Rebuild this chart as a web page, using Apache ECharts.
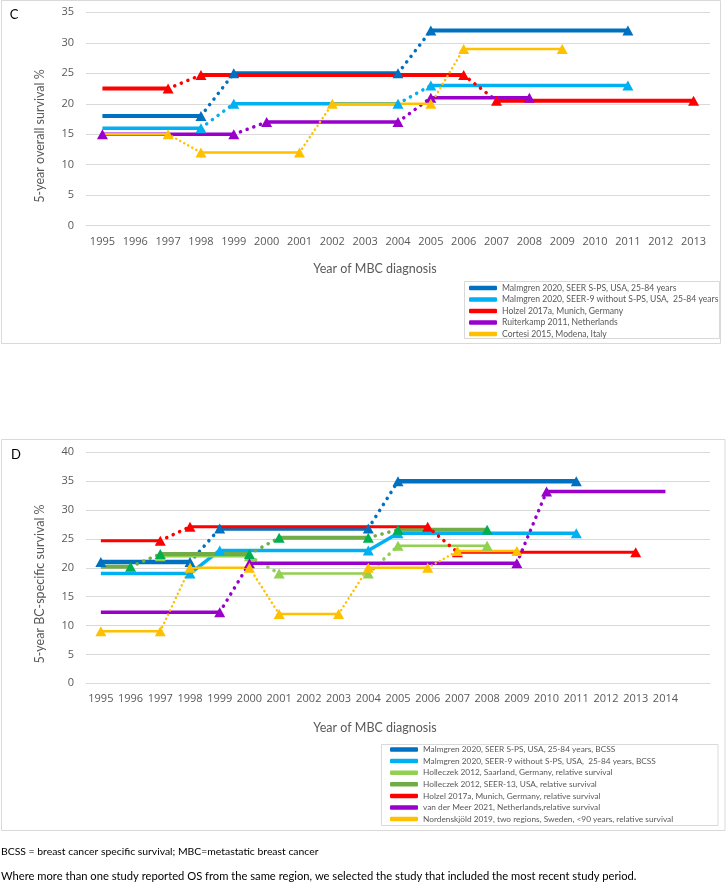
<!DOCTYPE html>
<html><head><meta charset="utf-8">
<script src="https://cdn.jsdelivr.net/npm/echarts@6/dist/echarts.min.js"></script>
<style>html,body{margin:0;padding:0;background:#fff}#chart{width:726px;height:883px}</style>
</head><body><div id="chart"></div>
<script>
// ---------- Panel C: 5-year overall survival ----------
const yearsC = ['1995','1996','1997','1998','1999','2000','2001','2002','2003','2004','2005','2006','2007','2008','2009','2010','2011','2012','2013'];
const cMalmgrenSPS   = [18,18,18,18,25,25,25,25,25,25,32,32,32,32,32,32,32,null,null];
const cMalmgrenSEER9 = [16,16,16,16,20,20,20,20,20,20,23,23,23,23,23,23,23,null,null];
const cHolzel        = [22.5,22.5,22.5,24.7,24.7,24.7,24.7,24.7,24.7,24.7,24.7,24.7,20.5,20.5,20.5,20.5,20.5,20.5,20.5];
const cRuiterkamp    = [15,15,15,15,15,17,17,17,17,17,21,21,21,21,null,null,null,null,null];
const cCortesi       = [15,15,15,12,12,12,12,20,20,20,20,29,29,29,29,null,null,null,null];
const cMalmgrenSPSMarks   = [1998,1999,2004,2005,2011];
const cMalmgrenSEER9Marks = [1998,1999,2004,2005,2011];
const cHolzelMarks        = [1997,1998,2006,2007,2013];
const cRuiterkampMarks    = [1995,1999,2000,2004,2005,2008];
const cCortesiMarks       = [1997,1998,2001,2002,2005,2006,2009];
const cNames = ['Malmgren 2020, SEER S-PS, USA, 25-84 years','Malmgren 2020, SEER-9 without S-PS, USA,  25-84 years','Holzel 2017a, Munich, Germany','Ruiterkamp 2011, Netherlands','Cortesi 2015, Modena, Italy'];

// ---------- Panel D: 5-year BC-specific survival ----------
const yearsD = ['1995','1996','1997','1998','1999','2000','2001','2002','2003','2004','2005','2006','2007','2008','2009','2010','2011','2012','2013','2014',''];
const dMalmgrenSPS   = [21,21,21,21,26.8,26.8,26.8,26.8,26.8,26.8,35,35,35,35,35,35,35,null,null,null,null];
const dMalmgrenSEER9 = [19,19,19,19,23,23,23,23,23,23,26,26,26,26,26,26,26,null,null,null,null];
const dHolleczekSaar = [null,null,22,22,22,22,19,19,19,19,23.8,23.8,23.8,23.8,null,null,null,null,null,null,null];
const dHolleczekSEER = [20.2,20.2,22.4,22.4,22.4,22.4,25.2,25.2,25.2,25.2,26.6,26.6,26.6,26.6,null,null,null,null,null,null,null];
const dHolzel        = [24.7,24.7,24.7,27.1,27.1,27.1,27.1,27.1,27.1,27.1,27.1,27.1,22.7,22.7,22.7,22.7,22.7,22.7,22.7,null,null];
const dVanDerMeer    = [12.3,12.3,12.3,12.3,12.3,20.8,20.8,20.8,20.8,20.8,20.8,20.8,20.8,20.8,20.8,33.2,33.2,33.2,33.2,33.2,null];
const dNordenskjold  = [9,9,9,20,20,20,12,12,12,20,20,20,22.9,22.9,22.9,null,null,null,null,null,null];
const dMalmgrenSPSMarks   = [1995,1998,1999,2004,2005,2011];
const dMalmgrenSEER9Marks = [1998,1999,2004,2005,2011];
const dHolleczekSaarMarks = [1997,2000,2001,2004,2005,2008];
const dHolleczekSEERMarks = [1996,1997,2000,2001,2004,2005,2008];
const dHolzelMarks        = [1997,1998,2006,2007,2013];
const dVanDerMeerMarks    = [1999,2000,2009,2010];
const dNordenskjoldMarks  = [1995,1997,1998,2000,2001,2003,2004,2006,2007,2009];
const dNames = ['Malmgren 2020, SEER S-PS, USA, 25-84 years, BCSS','Malmgren 2020, SEER-9 without S-PS, USA,  25-84 years, BCSS','Holleczek 2012, Saarland, Germany, relative survival','Holleczek 2012, SEER-13, USA, relative survival','Holzel 2017a, Munich, Germany, relative survival','van der Meer 2021, Netherlands,relative survival','Nordenskjöld 2019, two regions, Sweden, <90 years, relative survival'];

// ---------- styles ----------
const LATO = "Lato,'Open Sans',sans-serif";
const SANS = "'Open Sans',sans-serif";
const GREY = '#595959';
const GRID = '#d9d9d9';

const cStudies = [
  {name:cNames[0], data:cMalmgrenSPS,   marks:cMalmgrenSPSMarks,   color:'#0070C0', width:4,   dotted:true},
  {name:cNames[1], data:cMalmgrenSEER9, marks:cMalmgrenSEER9Marks, color:'#00B0F0', width:3.5, dotted:true},
  {name:cNames[2], data:cHolzel,        marks:cHolzelMarks,        color:'#FF0000', width:4,   dotted:true},
  {name:cNames[3], data:cRuiterkamp,    marks:cRuiterkampMarks,    color:'#9900CC', width:3.5, dotted:true},
  {name:cNames[4], data:cCortesi,       marks:cCortesiMarks,       color:'#FFC000', width:2.5, dotted:true, dot:[0.1,4.5]}
];
const dStudies = [
  {name:dNames[0], data:dMalmgrenSPS,   marks:dMalmgrenSPSMarks,   color:'#0070C0', width:4.5, dotted:true},
  {name:dNames[1], data:dMalmgrenSEER9, marks:dMalmgrenSEER9Marks, color:'#00B0F0', width:3.5, dotted:false},
  {name:dNames[2], data:dHolleczekSaar, marks:dHolleczekSaarMarks, color:'#92D050', width:2.5, dotted:true},
  {name:dNames[3], data:dHolleczekSEER, marks:dHolleczekSEERMarks, color:'#70AD47', mark:'#00B050', width:4, dotted:true},
  {name:dNames[4], data:dHolzel,        marks:dHolzelMarks,        color:'#FF0000', width:3,   dotted:true},
  {name:dNames[5], data:dVanDerMeer,    marks:dVanDerMeerMarks,    color:'#9900CC', width:3.5, dotted:true},
  {name:dNames[6], data:dNordenskjold,  marks:dNordenskjoldMarks,  color:'#FFC000', width:2.5, dotted:true, dot:[0.1,4.5]}
];

function periods(arr){
  const out=[]; let s=null;
  for(let i=0;i<arr.length;i++){
    const v=arr[i];
    if(v==null){ if(s!=null){out.push([s,i-1]); s=null;} }
    else if(s==null){ s=i; }
    else if(v!==arr[i-1]){ out.push([s,i-1]); s=i; }
  }
  if(s!=null) out.push([s,arr.length-1]);
  return out;
}

function buildSeries(studies, years, axisIndex){
  const res=[];
  studies.forEach(st=>{
    const N=st.data.length;
    const ps=periods(st.data);
    for(let k=0;k<ps.length-1;k++){
      const a=ps[k][1], b=ps[k+1][0];
      if(b!==a+1) continue;
      const d=new Array(N).fill(null);
      d[a]=st.data[a]; d[b]=st.data[b];
      res.push({
        type:'line', name:st.name, xAxisIndex:axisIndex, yAxisIndex:axisIndex,
        data:d, symbol:'none', silent:true, animation:false,
        color: st.color,
        lineStyle: st.dotted ? {color:st.color, width:st.dot?2.5:3.5, type:st.dot||[0.1,7], cap:'round'} : {color:st.color, width:st.width},
        emphasis:{disabled:true}
      });
    }
    ps.forEach(p=>{
      const d=new Array(N).fill(null);
      for(let i=p[0];i<=p[1];i++){
        const yr=+years[i];
        d[i] = st.marks.indexOf(yr)>=0 ? st.data[i] : {value:st.data[i], symbol:'none'};
      }
      res.push({
        type:'line', name:st.name, xAxisIndex:axisIndex, yAxisIndex:axisIndex,
        data:d, symbol:'triangle', symbolSize:[11,10], showSymbol:true, showAllSymbol:true,
        silent:true, animation:false,
        color: st.mark || st.color,
        itemStyle:{color: st.mark || st.color},
        lineStyle:{color:st.color, width:st.width, cap:'butt'},
        emphasis:{disabled:true}
      });
    });
  });
  return res;
}

const chart = echarts.init(document.getElementById('chart'), null, {renderer:'canvas'});

function legendData(studies){
  return studies.map(s=>({name:s.name, itemStyle:{color:s.color}}));
}

const option = {
  animation:false,
  backgroundColor:'#ffffff',
  grid:[
    {left:86, top:12.3, width:624, height:213.4, containLabel:false},
    {left:86, top:452.3, width:624, height:231, containLabel:false}
  ],
  xAxis:[
    {type:'category', gridIndex:0, data:yearsC, boundaryGap:true,
     axisLine:{lineStyle:{color:GRID}}, axisTick:{show:false},
     axisLabel:{interval:0, margin:11, color:GREY, fontSize:11, fontFamily:SANS}},
    {type:'category', gridIndex:1, data:yearsD, boundaryGap:true,
     axisLine:{lineStyle:{color:GRID}}, axisTick:{show:false},
     axisLabel:{interval:0, margin:10, color:GREY, fontSize:11, fontFamily:SANS}}
  ],
  yAxis:[
    {type:'value', gridIndex:0, min:0, max:35, interval:5,
     axisLine:{show:false}, axisTick:{show:false},
     splitLine:{lineStyle:{color:GRID}},
     axisLabel:{margin:12, color:GREY, fontSize:11, fontFamily:SANS}},
    {type:'value', gridIndex:1, min:0, max:40, interval:5,
     axisLine:{show:false}, axisTick:{show:false},
     splitLine:{lineStyle:{color:GRID}},
     axisLabel:{margin:12, color:GREY, fontSize:11, fontFamily:SANS}}
  ],
  legend:[
    {orient:'vertical', left:469, top:283, padding:0, itemGap:1.5, itemWidth:28, itemHeight:4.5,
     icon:'roundRect', selectedMode:false,
     textStyle:{fontSize:8.6, lineHeight:10, color:GREY, fontFamily:LATO},
     data:legendData(cStudies)},
    {orient:'vertical', left:390, top:744.5, padding:0, itemGap:1.6, itemWidth:28, itemHeight:4.5,
     icon:'roundRect', selectedMode:false,
     textStyle:{fontSize:8.3, lineHeight:10, color:GREY, fontFamily:LATO},
     data:legendData(dStudies)}
  ],
  graphic:[
    {type:'rect', shape:{x:1.5, y:0.5, width:719, height:343}, style:{fill:null, stroke:GRID, lineWidth:1}, silent:true, z:-1},
    {type:'rect', shape:{x:1.5, y:439.5, width:723.5, height:391}, style:{fill:null, stroke:GRID, lineWidth:1}, silent:true, z:-1},
    {type:'rect', shape:{x:464.5, y:281.5, width:255, height:57}, style:{fill:null, stroke:GRID, lineWidth:1}, silent:true},
    {type:'rect', shape:{x:381.5, y:744.5, width:336.5, height:81}, style:{fill:null, stroke:GRID, lineWidth:1}, silent:true},
    {type:'text', x:14, y:15, style:{text:'C', font:"13px "+LATO, fill:'#000', textAlign:'center', textVerticalAlign:'middle'}},
    {type:'text', x:16, y:454.5, style:{text:'D', font:"13px "+LATO, fill:'#000', textAlign:'center', textVerticalAlign:'middle'}},
    {type:'text', x:40, y:136, rotation:Math.PI/2, style:{text:'5-year overall survival %', font:"12.5px "+LATO, fill:GREY, textAlign:'center', textVerticalAlign:'middle'}},
    {type:'text', x:40, y:584, rotation:Math.PI/2, style:{text:'5-year BC-specific survival %', font:"12.5px "+LATO, fill:GREY, textAlign:'center', textVerticalAlign:'middle'}},
    {type:'text', x:375, y:269, style:{text:'Year of MBC diagnosis', font:"12.5px "+LATO, fill:GREY, textAlign:'center', textVerticalAlign:'middle'}},
    {type:'text', x:375, y:728, style:{text:'Year of MBC diagnosis', font:"12.5px "+LATO, fill:GREY, textAlign:'center', textVerticalAlign:'middle'}},
    {type:'text', x:1, y:852, style:{text:'BCSS = breast cancer specific survival; MBC=metastatic breast cancer', font:"10.4px "+LATO, fill:'#000', textAlign:'left', textVerticalAlign:'middle'}},
    {type:'text', x:1, y:876, style:{text:'Where more than one study reported OS from the same region, we selected the study that included the most recent study period.', font:"11.2px "+LATO, fill:'#000', textAlign:'left', textVerticalAlign:'middle'}}
  ],
  series: buildSeries(cStudies, yearsC, 0).concat(buildSeries(dStudies, yearsD, 1))
};
chart.setOption(option);
</script>
</body></html>
